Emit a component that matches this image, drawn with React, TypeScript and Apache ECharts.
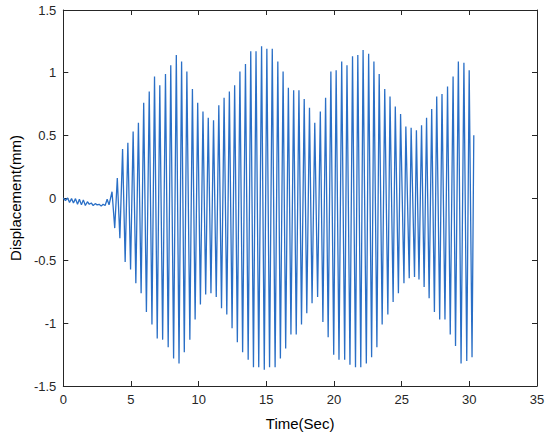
import React, { useEffect, useRef } from "react";
import * as echarts from "echarts";

// Small pre-excitation wiggle (time s, displacement mm)
const earlyTimes = [0, 0.16, 0.32, 0.46, 0.61, 0.75, 0.9, 1.05, 1.19, 1.34, 1.48, 1.63, 1.78, 1.92, 2.07, 2.21, 2.36, 2.5, 2.65, 2.8, 2.94, 3.09, 3.24, 3.38];
const earlyValues = [0, -0.02, 0, -0.035, -0.005, -0.04, -0.005, -0.05, -0.01, -0.055, -0.015, -0.06, -0.03, -0.05, -0.04, -0.06, -0.045, -0.055, -0.05, -0.065, -0.05, -0.06, -0.01, -0.055];

// Upper peaks of the main oscillation
const upperTimes = [3.6, 3.99, 4.38, 4.77, 5.16, 5.55, 5.94, 6.35, 6.74, 7.13, 7.55, 7.94, 8.35, 8.74, 9.13, 9.54, 9.93, 10.32, 10.71, 11.1, 11.49, 11.88, 12.27, 12.66, 13.05, 13.46, 13.85, 14.24, 14.65, 15.04, 15.44, 15.85, 16.24, 16.63, 17.02, 17.41, 17.8, 18.19, 18.58, 18.99, 19.38, 19.77, 20.16, 20.57, 20.96, 21.37, 21.76, 22.15, 22.56, 22.95, 23.34, 23.75, 24.14, 24.53, 24.92, 25.31, 25.7, 26.09, 26.47, 26.84, 27.22, 27.59, 27.98, 28.39, 28.8, 29.19, 29.6, 29.99];
const upperValues = [0.05, 0.16, 0.39, 0.44, 0.53, 0.6, 0.76, 0.85, 0.97, 0.9, 0.99, 1.06, 1.14, 1.09, 1.01, 0.87, 0.76, 0.69, 0.64, 0.62, 0.74, 0.8, 0.85, 0.9, 1.01, 1.07, 1.17, 1.17, 1.21, 1.19, 1.19, 1.09, 1.01, 0.88, 0.86, 0.86, 0.79, 0.72, 0.6, 0.69, 0.8, 1.01, 1.02, 1.09, 1.06, 1.13, 1.14, 1.18, 1.15, 1.09, 0.99, 0.87, 0.81, 0.73, 0.67, 0.57, 0.56, 0.54, 0.58, 0.64, 0.71, 0.81, 0.83, 0.89, 0.97, 1.09, 1.08, 1.02];

// Lower peaks of the main oscillation
const lowerTimes = [3.8, 4.18, 4.57, 4.97, 5.36, 5.75, 6.14, 6.55, 6.94, 7.34, 7.75, 8.15, 8.55, 8.94, 9.35, 9.74, 10.13, 10.52, 10.91, 11.3, 11.69, 12.08, 12.47, 12.86, 13.25, 13.66, 14.05, 14.44, 14.85, 15.24, 15.65, 16.04, 16.43, 16.82, 17.21, 17.6, 17.99, 18.38, 18.79, 19.18, 19.57, 19.98, 20.37, 20.79, 21.18, 21.59, 21.98, 22.39, 22.78, 23.17, 23.56, 23.98, 24.37, 24.76, 25.17, 25.56, 25.95, 26.28, 26.66, 27.03, 27.42, 27.81, 28.2, 28.59, 28.98, 29.39, 29.81, 30.2];
const lowerValues = [-0.24, -0.32, -0.51, -0.57, -0.68, -0.76, -0.91, -1.01, -1.12, -1.13, -1.19, -1.28, -1.32, -1.23, -1.13, -0.97, -0.85, -0.77, -0.76, -0.79, -0.88, -0.93, -1.04, -1.15, -1.23, -1.29, -1.35, -1.35, -1.37, -1.35, -1.35, -1.28, -1.2, -1.09, -1.09, -1.01, -0.92, -0.84, -0.79, -0.99, -1.11, -1.25, -1.29, -1.29, -1.33, -1.35, -1.35, -1.32, -1.27, -1.19, -1.01, -0.93, -0.83, -0.76, -0.68, -0.64, -0.63, -0.65, -0.71, -0.8, -0.91, -0.97, -0.97, -1.09, -1.18, -1.32, -1.3, -1.27];

// Final sample
const endTime = 30.33;
const endValue = 0.5;

const xMin = 0;
const xMax = 35;
const xStep = 5;
const yMin = -1.5;
const yMax = 1.5;
const yStep = 0.5;

const INK = "#262626";
const LINE = "#2a6fc6";
const FONT = "'Liberation Sans', Arial, sans-serif";

function buildData(): number[][] {
  const pts: number[][] = earlyTimes.map((t, i) => [t, earlyValues[i]]);
  upperTimes.forEach((t, i) => {
    pts.push([t, upperValues[i]]);
    pts.push([lowerTimes[i], lowerValues[i]]);
  });
  pts.push([endTime, endValue]);
  return pts;
}

export default function App() {
  const ref = useRef<HTMLDivElement>(null);
  useEffect(() => {
    if (!ref.current) return;
    const chart = echarts.init(ref.current, undefined, { renderer: "svg" });
    const frameAxis = {
      axisLine: { show: true, onZero: false, lineStyle: { color: INK, width: 1 } },
      axisTick: { show: true, inside: true, length: 5, lineStyle: { color: INK, width: 1 } },
      splitLine: { show: false },
    };
    chart.setOption({
      animation: false,
      backgroundColor: "#ffffff",
      grid: { left: 58, right: 13, top: 10, bottom: 51 },
      xAxis: [
        {
          type: "value",
          min: xMin,
          max: xMax,
          interval: xStep,
          position: "bottom",
          ...frameAxis,
          axisLabel: { color: INK, fontSize: 13, fontFamily: FONT, margin: 7 },
          name: "Time(Sec)",
          nameLocation: "middle",
          nameGap: 30,
          nameTextStyle: { color: "#000", fontSize: 15, fontFamily: FONT },
        },
        {
          type: "value",
          min: xMin,
          max: xMax,
          interval: xStep,
          position: "top",
          ...frameAxis,
          axisLabel: { show: false },
        },
      ],
      yAxis: [
        {
          type: "value",
          min: yMin,
          max: yMax,
          interval: yStep,
          position: "left",
          ...frameAxis,
          axisLabel: { color: INK, fontSize: 13, fontFamily: FONT, margin: 7 },
          name: "Displacement(mm)",
          nameLocation: "middle",
          nameGap: 34,
          nameTextStyle: { color: "#000", fontSize: 15, fontFamily: FONT },
        },
        {
          type: "value",
          min: yMin,
          max: yMax,
          interval: yStep,
          position: "right",
          ...frameAxis,
          axisLabel: { show: false },
        },
      ],
      series: [
        {
          type: "line",
          xAxisIndex: 0,
          yAxisIndex: 0,
          data: buildData(),
          showSymbol: false,
          symbol: "none",
          lineStyle: { color: LINE, width: 1.3 },
        },
      ],
    });
    return () => chart.dispose();
  }, []);
  return (
    <div
      ref={ref}
      style={{ position: "fixed", left: 0, top: 0, width: 550, height: 437 }}
    />
  );
}
